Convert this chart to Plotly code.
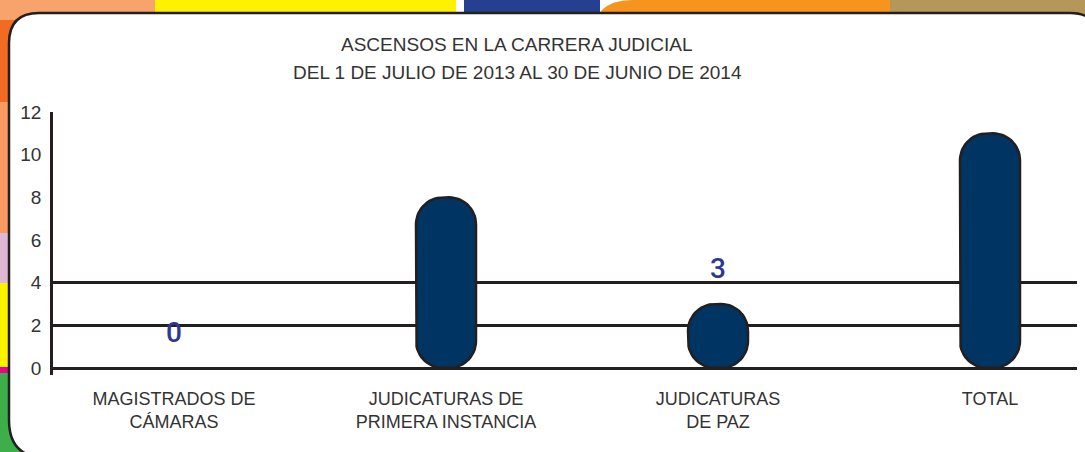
import plotly.graph_objects as go
import numpy as np

# ---------------- data ----------------
categories = ["MAGISTRADOS DE<br>CÁMARAS", "JUDICATURAS DE<br>PRIMERA INSTANCIA",
              "JUDICATURAS<br>DE PAZ", "TOTAL"]
values = [0, 8, 3, 11]
label_shown = [True, False, True, False]
y_ticks = [0, 2, 4, 6, 8, 10, 12]
grid_ticks = [0, 2, 4, 12]
title_lines = ["ASCENSOS EN LA CARRERA JUDICIAL",
               "DEL 1 DE JULIO DE 2013 AL 30 DE JUNIO DE 2014"]

# ---------------- layout geometry ----------------
W, H = 1085, 452
ML, MR, MT, MB = 53, 8, 112, 77
PW, PH = W - ML - MR, H - MT - MB
X_RANGE = [-121 / 272, (1077 - 174) / 272]
Y_RANGE = [-7 / 21.333, 12]
KX = PW / (X_RANGE[1] - X_RANGE[0])   # px per x unit
KY = PH / (Y_RANGE[1] - Y_RANGE[0])   # px per y unit

BAR_HALF_PX = 30
RADIUS_PX = 27
NAVY = "#003462"
EDGE = "#231f20"
TEXT = "#333333"
FONT = "Liberation Sans, Arial, sans-serif"


def rounded_bar(xc, h):
    """Outline of a bar with rounded ends, built in data units."""
    hw = BAR_HALF_PX / KX
    hpx = h * KY
    r = min(RADIUS_PX, BAR_HALF_PX, hpx / 2)
    rx, ry = r / KX, r / KY
    xs, ys = [], []
    corners = [
        (xc + hw - rx, h - ry, 0, 90),
        (xc - hw + rx, h - ry, 90, 180),
        (xc - hw + rx, ry, 180, 270),
        (xc + hw - rx, ry, 270, 360),
    ]
    for cx, cy, a0, a1 in corners:
        t = np.radians(np.linspace(a0, a1, 16))
        xs.extend(cx + rx * np.cos(t))
        ys.extend(cy + ry * np.sin(t))
    xs.append(xs[0])
    ys.append(ys[0])
    return xs, ys


fig = go.Figure()

for i, v in enumerate(values):
    if v <= 0:
        continue
    xs, ys = rounded_bar(i, v)
    fig.add_trace(go.Scatter(
        x=xs, y=ys, mode="lines", fill="toself", fillcolor=NAVY,
        line=dict(color=EDGE, width=2.5), hoverinfo="skip", showlegend=False,
    ))

# value labels
for i, (v, s) in enumerate(zip(values, label_shown)):
    if s:
        fig.add_annotation(x=i, y=v, text=str(v), showarrow=False, yshift=36,
                           font=dict(size=28, color="#2b3a8e", family="Roboto, " + FONT,
                                     weight=500))

# invisible trace on secondary y axis so it renders gridlines
fig.add_trace(go.Scatter(x=[0], y=[0], yaxis="y2", mode="markers",
                         marker=dict(opacity=0), hoverinfo="skip", showlegend=False))


# ---------------- decoration (pixel helpers) ----------------
def px(X):
    return (X - ML) / PW


def py(Y):
    return (MT + PH - Y) / PH


shapes = []


def rect(x0, y0, x1, y1, color):
    shapes.append(dict(type="rect", xref="paper", yref="paper",
                       x0=px(x0), x1=px(x1), y0=py(y1), y1=py(y0),
                       fillcolor=color, line=dict(width=0), layer="below"))


# top strip
rect(0, 0, 155, 30, "#f8a36b")
rect(155, 0, 456, 30, "#fff200")
rect(456, 0, 464, 30, "#ffffff")
rect(464, 0, 600, 30, "#24408e")
rect(880, 0, 1085, 60, "#b5975a")
r_tab = 40
shapes.append(dict(
    type="path", xref="paper", yref="paper", layer="below",
    path=(f"M {px(592)} {py(40)} L {px(592)} {py(0 + r_tab)} "
          f"Q {px(592)} {py(0)} {px(592 + r_tab)} {py(0)} "
          f"L {px(890)} {py(0)} L {px(890)} {py(40)} Z"),
    fillcolor="#f7941d", line=dict(width=0)))
# left strip
rect(0, 20, 30, 102, "#f26b22")
rect(0, 102, 30, 233, "#f89a62")
rect(0, 233, 30, 283, "#dfb8d6")
rect(0, 283, 30, 367, "#fff200")
rect(0, 367, 30, 373, "#ec008c")
rect(0, 373, 30, 452, "#3eae4a")

# white panel with rounded corners (right edge lies outside the view)
L, T, RX, B = 9, 13, 1100, 458
r1, r2, r3 = 30, 30, 38
panel = (f"M {px(L)} {py(T + r1)} Q {px(L)} {py(T)} {px(L + r1)} {py(T)} "
         f"L {px(RX - r2)} {py(T)} Q {px(RX)} {py(T)} {px(RX)} {py(T + r2)} "
         f"L {px(RX)} {py(B)} L {px(L + r3)} {py(B)} "
         f"Q {px(L)} {py(B)} {px(L)} {py(B - r3)} Z")
shapes.append(dict(type="path", xref="paper", yref="paper", layer="below",
                   path=panel, fillcolor="#ffffff", line=dict(color=EDGE, width=2.5)))

# title
for j, line in enumerate(title_lines):
    fig.add_annotation(xref="paper", yref="paper", x=px(517), y=py(45 + 27 * j),
                       text=line, showarrow=False, xanchor="center", yanchor="middle",
                       font=dict(size=19, color=TEXT, family=FONT))

fig.update_layout(
    width=W, height=H,
    margin=dict(l=ML, r=MR, t=MT, b=MB, pad=0),
    paper_bgcolor="#ffffff", plot_bgcolor="rgba(0,0,0,0)",
    showlegend=False, shapes=shapes,
    xaxis=dict(range=X_RANGE, tickvals=list(range(len(categories))), ticktext=categories,
               showgrid=False, zeroline=False, showline=False,
               ticks="outside", ticklen=7, tickcolor="rgba(0,0,0,0)",
               tickfont=dict(size=18, color=TEXT, family=FONT), fixedrange=True),
    yaxis=dict(range=Y_RANGE, tickvals=y_ticks, showgrid=False, zeroline=False,
               showline=True, linecolor=EDGE, linewidth=2.5,
               ticks="outside", ticklen=5, tickcolor="rgba(0,0,0,0)",
               tickfont=dict(size=19, color=TEXT, family=FONT), fixedrange=True),
    yaxis2=dict(range=Y_RANGE, overlaying="y", tickvals=grid_ticks, showgrid=True,
                gridcolor=EDGE, gridwidth=2.5, showticklabels=False, zeroline=False,
                showline=False, fixedrange=True),
)

fig.write_html("out.html", config={"displayModeBar": False},
               post_script="document.body.style.margin='0';document.body.style.overflow='hidden';")
